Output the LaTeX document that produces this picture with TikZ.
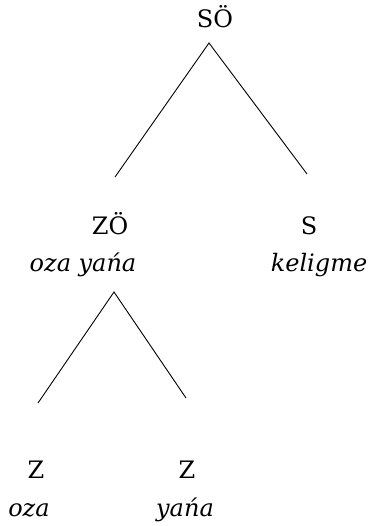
\documentclass[tikz,border=0pt]{standalone}
\usepackage{fontspec}
\setmainfont{DejaVu Serif}
\begin{document}
\begin{tikzpicture}[x=1pt,y=-1pt,
  cat/.style={anchor=base,inner sep=0pt,font=\fontsize{24}{28}\selectfont},
  gloss/.style={anchor=base,inner sep=0pt,font=\fontsize{24}{28}\selectfont\itshape},
  branch/.style={line width=0.9pt}]
\useasboundingbox (0,0) rectangle (368,526);
% labels
\node[cat] (so) at (215,28) {SÖ};
\node[cat] (zo) at (110,234) {ZÖ};
\node[gloss] (zog) at (83,271) {oza yańa};
\node[cat] (s) at (309,234) {S};
\node[gloss] (sg) at (319,271) {keligme};
\node[cat] (z1) at (36,478) {Z};
\node[gloss] (z1g) at (29,516) {oza};
\node[cat] (z2) at (187,478) {Z};
\node[gloss] (z2g) at (185,516) {yańa};
% branch points
\coordinate (soT) at (209,43);
\coordinate (zoB) at (115,177);
\coordinate (sB) at (307,174);
\coordinate (zoT) at (114,292);
\coordinate (z1B) at (38,403);
\coordinate (z2B) at (186,398);
% branches
\draw[branch] (zoB) -- (soT) -- (sB);
\draw[branch] (z1B) -- (zoT) -- (z2B);
\end{tikzpicture}
\end{document}
